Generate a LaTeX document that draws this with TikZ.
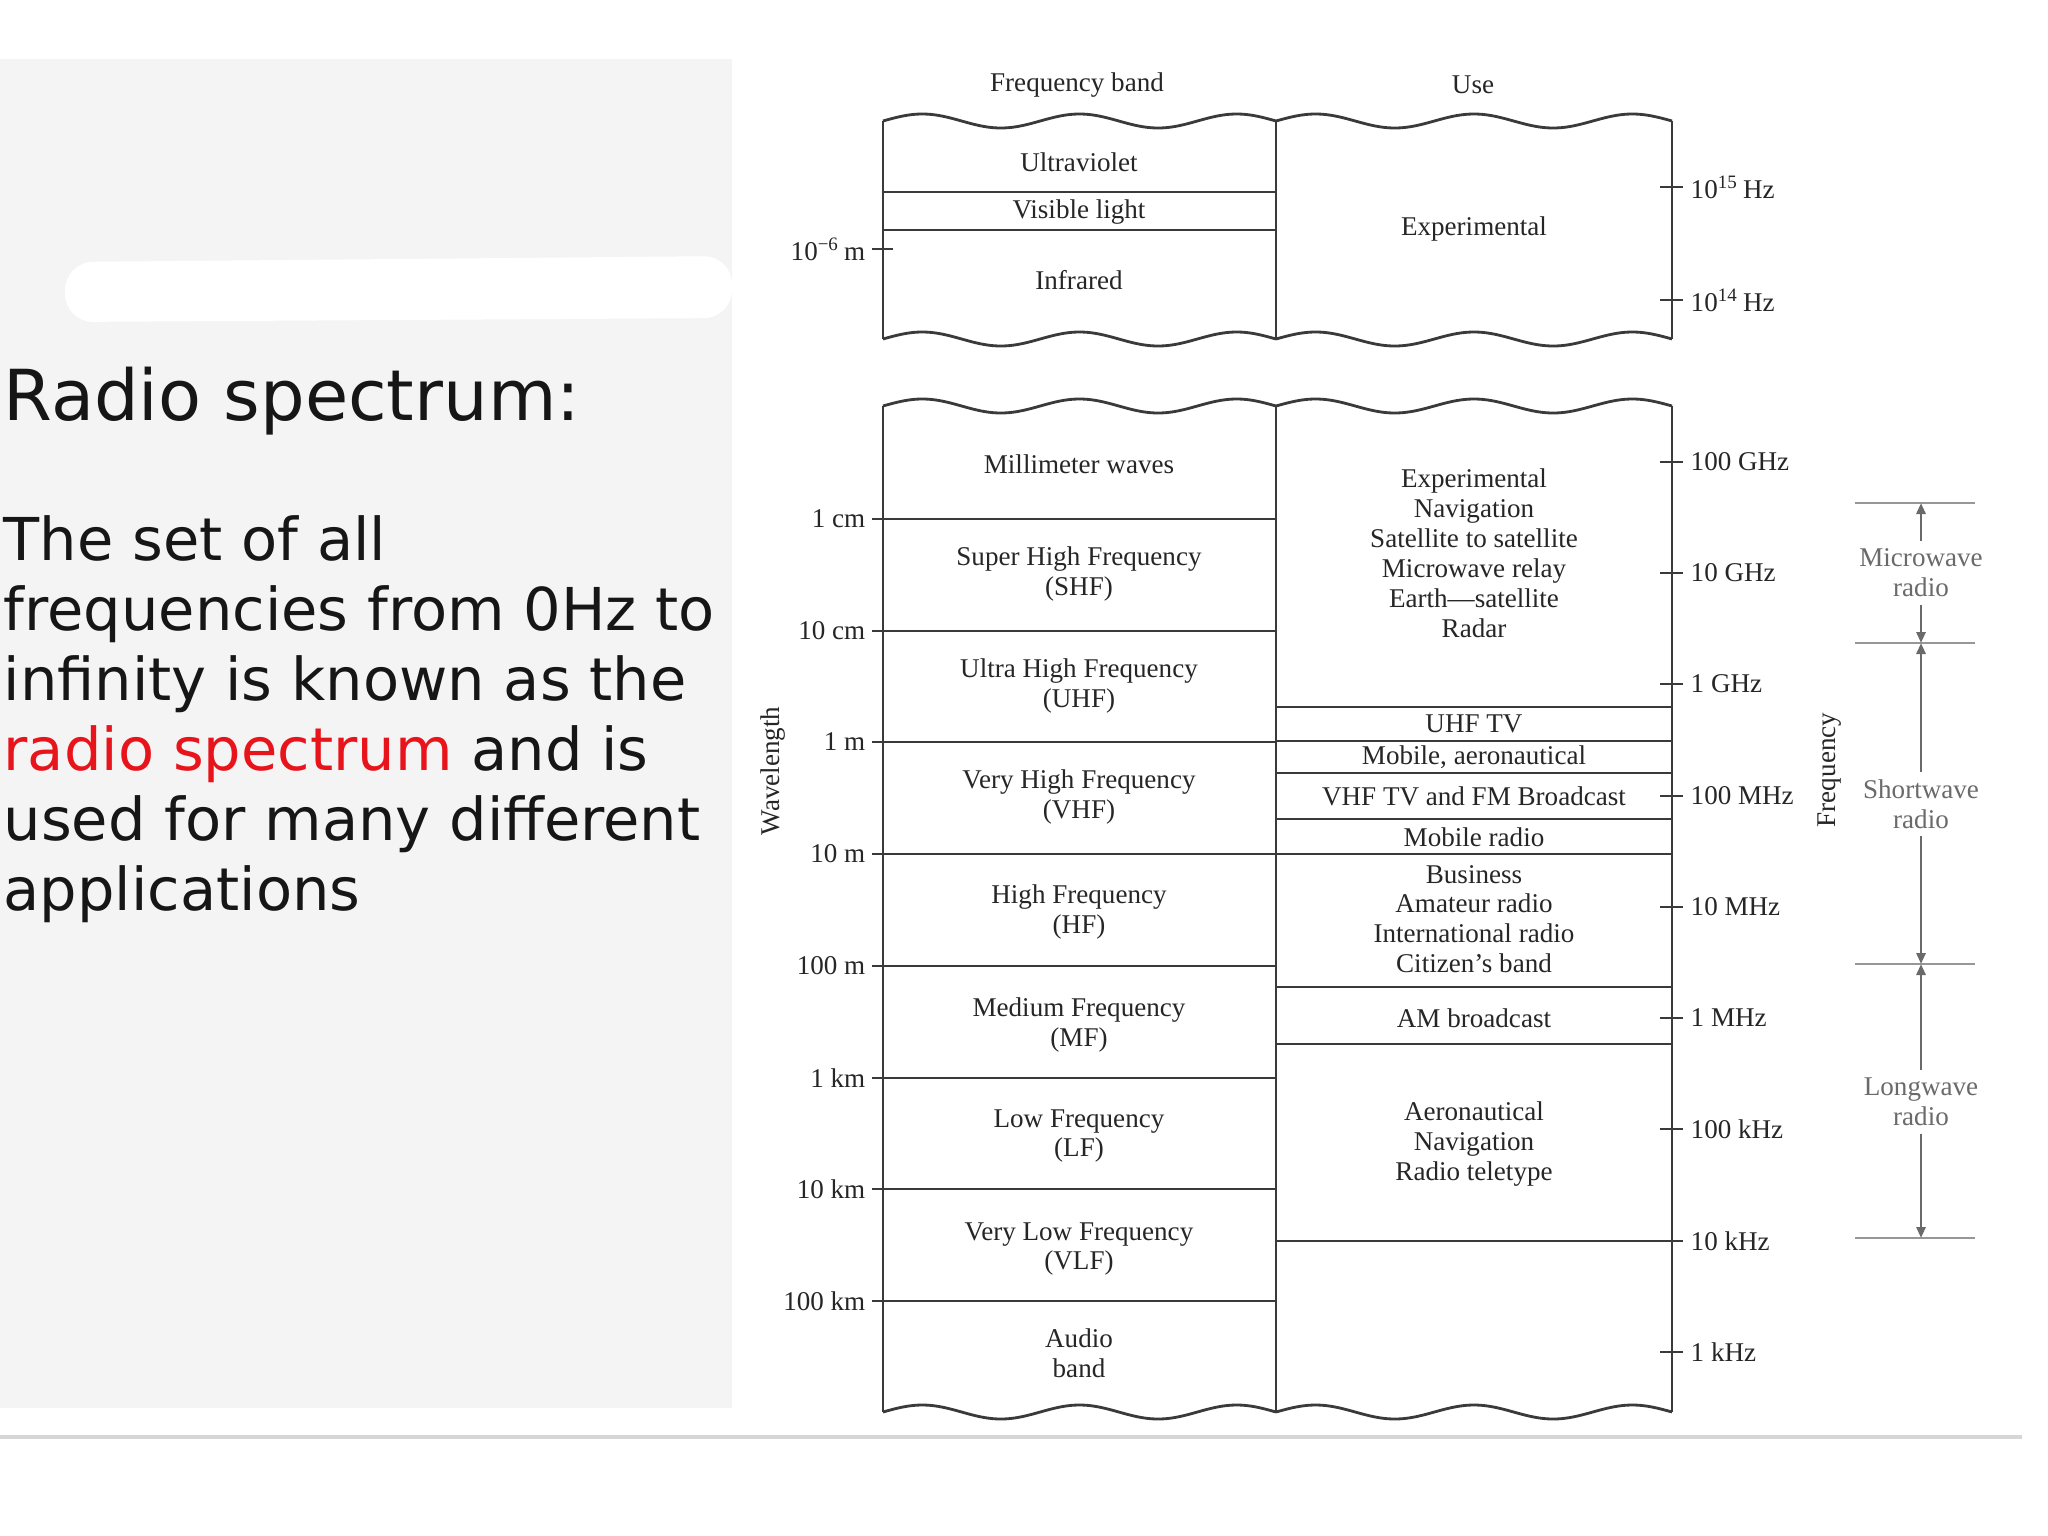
\documentclass[tikz,border=0pt]{standalone}
\usepackage{fontspec}
\setmainfont{Liberation Serif}
\newfontfamily\slidefont{DejaVu Sans}
\usetikzlibrary{arrows.meta}
\definecolor{RSLine}{HTML}{3A3A3A}
\definecolor{RSText}{HTML}{262626}
\definecolor{RSPanel}{HTML}{F4F4F4}
\definecolor{RSRed}{HTML}{E8141B}
\definecolor{RSNote}{HTML}{6A6A6A}
\definecolor{RSRule}{HTML}{D6D6D6}
\definecolor{RSSlide}{HTML}{161616}
\newcommand{\wavyedge}[3]{\draw[boxline] plot[domain=#1:#2,samples=80,smooth] (\x,{#3-7*cos(900/(#2-#1)*(\x-#1)-90)});}

\begin{document}
\begin{tikzpicture}[x=0.01cm,y=-0.01cm,
  boxline/.style={draw=RSLine,line width=0.8pt},
  chartfont/.style={font=\fontsize{7.7}{8.5}\selectfont,text=RSText},
  cell/.style={chartfont,align=center,inner sep=0pt},
  waveunit/.style={chartfont,anchor=east,inner sep=0pt},
  frequnit/.style={chartfont,anchor=west,inner sep=0pt},
  radionote/.style={chartfont,text=RSNote,align=center,inner sep=2pt},
  noteline/.style={draw=RSNote!70,line width=0.8pt},
  notearrow/.style={draw=RSNote,line width=0.8pt,-{Triangle[length=1.1mm,width=0.9mm]}},
  slidebody/.style={anchor=base west,inner sep=0pt,text=RSSlide,font=\slidefont\fontsize{16.8}{19.9}\selectfont}]
  \fill[white] (0,0) rectangle (2048,1536);
  \useasboundingbox (0,0) rectangle (2048,1536);
  \fill[RSPanel] (0,59) rectangle (732,1408);
  \fill[white,rounded corners=8pt] (65,262) -- (732,256) -- (732,318) -- (65,322) -- cycle;
  \draw[RSRule,line width=1pt] (0,1437) -- (2022,1437);

  \node[anchor=base west,inner sep=0pt,text=RSSlide,font=\slidefont\fontsize{20}{24}\selectfont] (title) at (3,420) {Radio spectrum:};
  \node[slidebody] (lineA) at (3,560) {The set of all};
  \node[slidebody] (lineB) at (3,630) {frequencies from 0Hz to};
  \node[slidebody] (lineC) at (3,700) {infinity is known as the};
  \node[slidebody] (lineD) at (3,770) {{\color{RSRed}radio spectrum} and is};
  \node[slidebody] (lineE) at (3,840) {used for many different};
  \node[slidebody] (lineF) at (3,910) {applications};

  \node[cell] (bandhead) at (1077,85) {Frequency band};
  \node[cell] (usehead) at (1473,85) {Use};

  \wavyedge{883}{1276}{121}
  \wavyedge{1276}{1672}{121}
  \wavyedge{883}{1276}{339}
  \wavyedge{1276}{1672}{339}
  \draw[boxline] (883,121) -- (883,339);
  \draw[boxline] (1276,121) -- (1276,339);
  \draw[boxline] (1672,121) -- (1672,339);
  \draw[boxline] (883,192) -- (1276,192);
  \draw[boxline] (883,230) -- (1276,230);
  \draw[boxline] (872,249) -- (893,249);
  \draw[boxline] (1660,187) -- (1683,187);
  \draw[boxline] (1660,300) -- (1683,300);

  \node[cell] (uv) at (1079,162) {Ultraviolet};
  \node[cell] (visible) at (1079,212) {Visible light};
  \node[cell] (infrared) at (1079,280) {Infrared};
  \node[cell] (optuse) at (1474,229) {Experimental};
  \node[waveunit] (wMicron) at (866,249) {10\textsuperscript{−6}\,m};
  \node[frequnit] (fPeta) at (1690,187) {10\textsuperscript{15}\,Hz};
  \node[frequnit] (fHundredT) at (1690,300) {10\textsuperscript{14}\,Hz};

  \wavyedge{883}{1276}{406}
  \wavyedge{1276}{1672}{406}
  \wavyedge{883}{1276}{1412}
  \wavyedge{1276}{1672}{1412}
  \draw[boxline] (883,406) -- (883,1412);
  \draw[boxline] (1276,406) -- (1276,1412);
  \draw[boxline] (1672,406) -- (1672,1412);

  \draw[boxline] (872,519) -- (1276,519);
  \draw[boxline] (872,631) -- (1276,631);
  \draw[boxline] (872,742) -- (1276,742);
  \draw[boxline] (872,854) -- (1276,854);
  \draw[boxline] (872,966) -- (1276,966);
  \draw[boxline] (872,1078) -- (1276,1078);
  \draw[boxline] (872,1189) -- (1276,1189);
  \draw[boxline] (872,1301) -- (1276,1301);

  \draw[boxline] (1276,707) -- (1672,707);
  \draw[boxline] (1276,741) -- (1672,741);
  \draw[boxline] (1276,773) -- (1672,773);
  \draw[boxline] (1276,819) -- (1672,819);
  \draw[boxline] (1276,854) -- (1672,854);
  \draw[boxline] (1276,987) -- (1672,987);
  \draw[boxline] (1276,1044) -- (1672,1044);
  \draw[boxline] (1276,1241) -- (1683,1241);

  \draw[boxline] (1660,462) -- (1683,462);
  \draw[boxline] (1660,573) -- (1683,573);
  \draw[boxline] (1660,684) -- (1683,684);
  \draw[boxline] (1660,796) -- (1683,796);
  \draw[boxline] (1660,907) -- (1683,907);
  \draw[boxline] (1660,1018) -- (1683,1018);
  \draw[boxline] (1660,1129) -- (1683,1129);
  \draw[boxline] (1660,1352) -- (1683,1352);

  \node[cell] (mmw) at (1079,464) {Millimeter waves};
  \node[cell] (shf) at (1079,574) {Super High Frequency\\(SHF)};
  \node[cell] (uhf) at (1079,686) {Ultra High Frequency\\(UHF)};
  \node[cell] (vhf) at (1079,797) {Very High Frequency\\(VHF)};
  \node[cell] (hf) at (1079,912) {High Frequency\\(HF)};
  \node[cell] (mf) at (1079,1025) {Medium Frequency\\(MF)};
  \node[cell] (lf) at (1079,1136) {Low Frequency\\(LF)};
  \node[cell] (vlf) at (1079,1249) {Very Low Frequency\\(VLF)};
  \node[cell] (audio) at (1079,1353) {Audio\\band};

  \node[cell] (microuse) at (1474,553) {Experimental\\Navigation\\Satellite to satellite\\Microwave relay\\Earth---satellite\\Radar};
  \node[cell] (uhftv) at (1474,724) {UHF TV};
  \node[cell] (aero) at (1474,757) {Mobile, aeronautical};
  \node[cell] (vhftv) at (1474,796) {VHF TV and FM Broadcast};
  \node[cell] (mobile) at (1474,837) {Mobile radio};
  \node[cell] (hfuse) at (1474,919) {Business\\Amateur radio\\International radio\\Citizen’s band};
  \node[cell] (am) at (1474,1018) {AM broadcast};
  \node[cell] (lfuse) at (1474,1144) {Aeronautical\\Navigation\\Radio teletype};

  \node[waveunit] (wOneCm) at (866,519) {1 cm};
  \node[waveunit] (wTenCm) at (866,631) {10 cm};
  \node[waveunit] (wOneM) at (866,742) {1 m};
  \node[waveunit] (wTenM) at (866,854) {10 m};
  \node[waveunit] (wHundredM) at (866,966) {100 m};
  \node[waveunit] (wOneKm) at (866,1078) {1 km};
  \node[waveunit] (wTenKm) at (866,1189) {10 km};
  \node[waveunit] (wHundredKm) at (866,1301) {100 km};

  \node[frequnit] (fHundredG) at (1690,462) {100 GHz};
  \node[frequnit] (fTenG) at (1690,573) {10 GHz};
  \node[frequnit] (fOneG) at (1690,684) {1 GHz};
  \node[frequnit] (fHundredM) at (1690,796) {100 MHz};
  \node[frequnit] (fTenM) at (1690,907) {10 MHz};
  \node[frequnit] (fOneM) at (1690,1018) {1 MHz};
  \node[frequnit] (fHundredK) at (1690,1129) {100 kHz};
  \node[frequnit] (fTenK) at (1690,1241) {10 kHz};
  \node[frequnit] (fOneK) at (1690,1352) {1 kHz};

  \node[cell,rotate=90] (wavelength) at (773,771) {Wavelength};
  \node[cell,rotate=90] (frequency) at (1830,770) {Frequency};

  \draw[noteline] (1855,503) -- (1975,503);
  \draw[noteline] (1855,643) -- (1975,643);
  \draw[noteline] (1855,964) -- (1975,964);
  \draw[noteline] (1855,1238) -- (1975,1238);
  \coordinate (mwTop) at (1921,503);
  \coordinate (mwBottom) at (1921,643);
  \coordinate (swBottom) at (1921,964);
  \coordinate (lwBottom) at (1921,1238);
  \node[radionote] (microwave) at (1921,573) {Microwave\\radio};
  \node[radionote] (shortwave) at (1921,804) {Shortwave\\radio};
  \node[radionote] (longwave) at (1921,1102) {Longwave\\radio};
  \draw[notearrow] (microwave.north) -- (mwTop);
  \draw[notearrow] (microwave.south) -- (mwBottom);
  \draw[notearrow] (shortwave.north) -- (mwBottom);
  \draw[notearrow] (shortwave.south) -- (swBottom);
  \draw[notearrow] (longwave.north) -- (swBottom);
  \draw[notearrow] (longwave.south) -- (lwBottom);
\end{tikzpicture}
\end{document}
